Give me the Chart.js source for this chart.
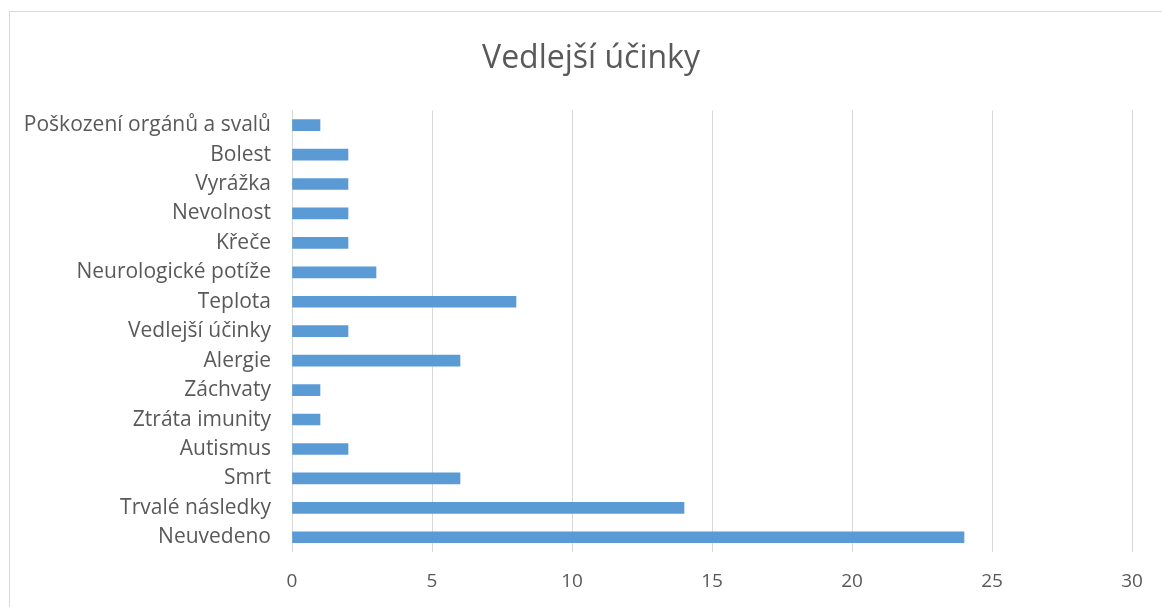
<!DOCTYPE html>
<html>
<head>
<meta charset="utf-8">
<script src="https://cdn.jsdelivr.net/npm/chart.js@4"></script>
<style>
  html, body { margin: 0; padding: 0; background: #fff; overflow: hidden; }
  #frame { position: absolute; left: 9px; top: 11px; width: 1300px; height: 700px;
           border-left: 1px solid #d9d9d9; border-top: 1px solid #d9d9d9; }
  #myChart { position: absolute; left: 0; top: 0; }
</style>
</head>
<body>
<div id="frame"></div>
<canvas id="myChart" width="1182" height="607"></canvas>
<script>
var categories = [
    "Poškození orgánů a svalů",
    "Bolest",
    "Vyrážka",
    "Nevolnost",
    "Křeče",
    "Neurologické potíže",
    "Teplota",
    "Vedlejší účinky",
    "Alergie",
    "Záchvaty",
    "Ztráta imunity",
    "Autismus",
    "Smrt",
    "Trvalé následky",
    "Neuvedeno"
];
var counts = [1, 2, 2, 2, 2, 3, 8, 2, 6, 1, 1, 2, 6, 14, 24];
var xTicks = [0, 5, 10, 15, 20, 25, 30];

var textColor = "#595959";
var gridColor = "#d9d9d9";
var fontName = "'Open Sans', sans-serif";

// the original is cropped on the right, so its title sits left of the canvas centre
var shiftTitle = {
    id: 'shiftTitle',
    afterLayout: function(chart) {
        if (chart.titleBlock) chart.titleBlock.left = 50;
    }
};

var ctx = document.getElementById("myChart");
var myChart = new Chart(ctx, {
    type: 'bar',
    data: {
        labels: categories,
        datasets: [
            {
                data: counts,
                label: "Vedlejší účinky",
                backgroundColor: "#5b9bd5",
                barThickness: 11
            }
        ]
    },
    options: {
        indexAxis: 'y',
        responsive: false,
        animation: false,
        layout: { padding: { left: 0, right: 50, top: 0, bottom: 0 } },
        plugins: {
            legend: { display: false },
            tooltip: { enabled: false },
            title: {
                display: true,
                text: 'Vedlejší účinky',
                color: textColor,
                font: { family: fontName, size: 32, weight: 'normal' },
                padding: { top: 40, bottom: 32 }
            }
        },
        scales: {
            x: {
                min: 0,
                max: 30,
                afterBuildTicks: function(scale) {
                    scale.ticks = xTicks.map(function(v) { return { value: v }; });
                },
                afterFit: function(scale) { scale.height = 55; },
                grid: { color: gridColor, drawTicks: false },
                border: { display: false },
                ticks: { color: textColor, padding: 18, maxRotation: 0, font: { family: fontName, size: 19 } }
            },
            y: {
                afterFit: function(scale) { scale.width = 292; },
                grid: { display: false, drawTicks: false },
                border: { display: false },
                ticks: { color: textColor, padding: 21, autoSkip: false, font: { family: fontName, size: 21 } }
            }
        }
    },
    plugins: [shiftTitle]
});
</script>
</body>
</html>
